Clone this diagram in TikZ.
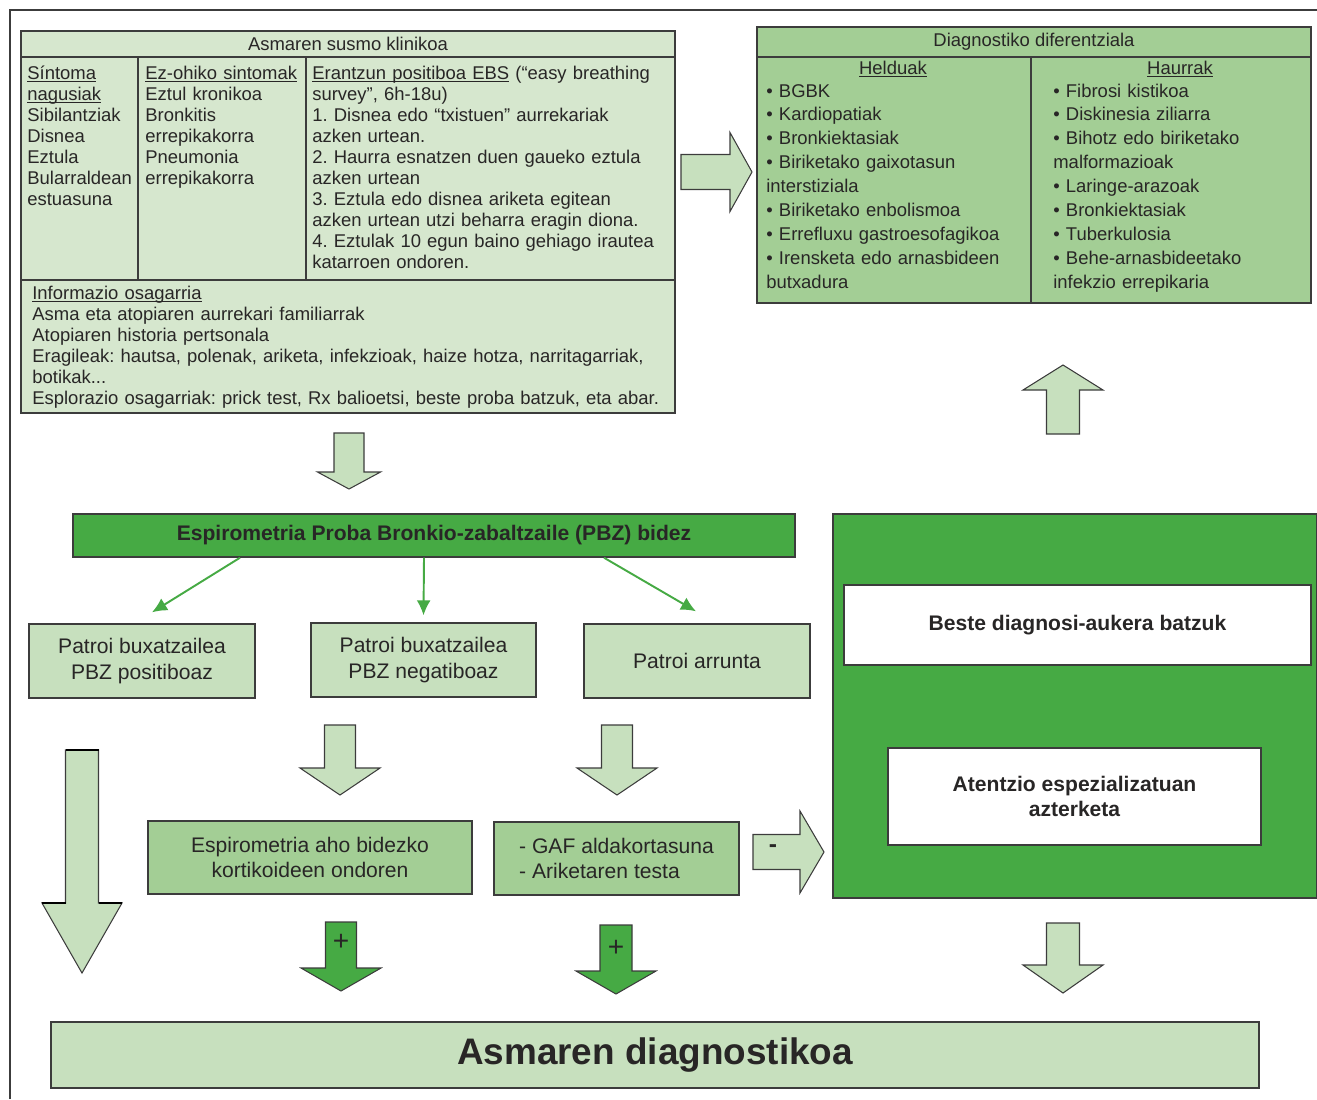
\documentclass[tikz,border=0pt]{standalone}
\usepackage{fontspec}
\setmainfont{Liberation Sans}
\usepackage{tikz}
\usetikzlibrary{arrows.meta}
\frenchspacing

\definecolor{clinfill}{RGB}{214,231,206}
\definecolor{midgreen}{RGB}{163,206,149}
\definecolor{lightgreen}{RGB}{199,224,190}
\definecolor{darkgreen}{RGB}{70,170,68}
\definecolor{inkgray}{RGB}{40,38,38}
\definecolor{edgegray}{RGB}{60,60,60}

% underline at a fixed depth
\newcommand{\undl}[1]{$\underline{\smash{\hbox{#1}}}$}

% block arrows: fill, centre, base, neck, tip, half shaft, half head
\newcommand{\blkdown}[7]{%
  \draw [blkarrow, fill=#1] ({#2-#6},#3) -- ({#2+#6},#3) -- ({#2+#6},#4) -- ({#2+#7},#4)
    -- (#2,#5) -- ({#2-#7},#4) -- ({#2-#6},#4) -- cycle;}
\newcommand{\blkright}[7]{%
  \draw [blkarrow, fill=#1] (#3,{#2-#6}) -- (#3,{#2+#6}) -- (#4,{#2+#6}) -- (#4,{#2+#7})
    -- (#5,#2) -- (#4,{#2-#7}) -- (#4,{#2-#6}) -- cycle;}

\begin{document}
\begin{tikzpicture}[
    x=0.2mm, y=-0.2mm,
    >={Latex[length=3mm,width=2.8mm]},
    font=\fontsize{10.5}{12}\selectfont,
    text=inkgray,
    box/.style={
        rectangle,
        draw=edgegray,
        line width=0.8pt,
        inner sep=0pt,
        align=center
    },
    cell/.style={
        anchor=base west,
        inner sep=0pt,
        align=left
    },
    rule/.style={draw=edgegray, line width=0.8pt},
    blkarrow/.style={draw=edgegray, line width=0.6pt},
    grnarrow/.style={->, draw=darkgreen, line width=1.1pt},
    bigtext/.style={font=\fontsize{12}{14.7}\selectfont},
    boldtext/.style={font=\bfseries\fontsize{12}{14.2}\selectfont}
  ]
  \useasboundingbox (0,0) rectangle (1317,1099);
  \draw [rule] (10,1099) -- (10,10) -- (1317,10);

  % clinical suspicion table
  \node [box, fill=clinfill, minimum width=130.8mm, minimum height=76.4mm] (clin) at (348,222) {};
  \draw [rule] (21,57) -- (675,57);
  \draw [rule] (21,280) -- (675,280);
  \draw [rule] (138,57) -- (138,280);
  \draw [rule] (306,57) -- (306,280);

  \node (clinhd) at (348,44) {Asmaren susmo klinikoa};
  \node [cell, text width=24mm] (sympt) at (27,79)
    {\undl{Síntoma}\\ \undl{nagusiak}\\ Sibilantziak\\ Disnea\\ Eztula\\ Bularraldean\\ estuasuna};
  \node [cell, text width=32mm] (rare) at (145,79)
    {\undl{Ez-ohiko sintomak}\\ Eztul kronikoa\\ Bronkitis\\ errepikakorra\\ Pneumonia\\ errepikakorra};
  \node [cell, text width=72mm] (ebs) at (312,79)
    {\undl{Erantzun positiboa EBS} (“easy breathing\\
     survey”, 6h-18u)\\
     1. Disnea edo “txistuen” aurrekariak\\
     azken urtean.\\
     2. Haurra esnatzen duen gaueko eztula\\
     azken urtean\\
     3. Eztula edo disnea ariketa egitean\\
     azken urtean utzi beharra eragin diona.\\
     4. Eztulak 10 egun baino gehiago irautea\\
     katarroen ondoren.};
  \node [cell, text width=128mm] (info) at (32,299)
    {\undl{Informazio osagarria}\\
     Asma eta atopiaren aurrekari familiarrak\\
     Atopiaren historia pertsonala\\
     Eragileak: hautsa, polenak, ariketa, infekzioak, haize hotza, narritagarriak,\\
     botikak...\\
     Esplorazio osagarriak: prick test, Rx balioetsi, beste proba batzuk, eta abar.};

  % differential diagnosis table
  \node [box, fill=midgreen, minimum width=110.8mm, minimum height=55.2mm] (ddif) at (1034,165) {};
  \draw [rule] (757,57) -- (1311,57);
  \draw [rule] (1031,57) -- (1031,303);
  \node (ddifhd) at (1034,42) {Diagnostiko diferentziala};
  \node [anchor=base] (adulthd) at (893,74) {\undl{Helduak}};
  \node [anchor=base] (childhd) at (1180,74) {\undl{Haurrak}};
  \node [cell, text width=52mm, font=\fontsize{10.5}{13.6}\selectfont] (adult) at (766,97)
    {• BGBK\\ • Kardiopatiak\\ • Bronkiektasiak\\ • Biriketako gaixotasun\\ interstiziala\\
     • Biriketako enbolismoa\\ • Errefluxu gastroesofagikoa\\ • Irensketa edo arnasbideen\\ butxadura};
  \node [cell, text width=50mm, font=\fontsize{10.5}{13.6}\selectfont] (child) at (1053,97)
    {• Fibrosi kistikoa\\ • Diskinesia ziliarra\\ • Bihotz edo biriketako\\ malformazioak\\
     • Laringe-arazoak\\ • Bronkiektasiak\\ • Tuberkulosia\\ • Behe-arnasbideetako\\ infekzio errepikaria};

  % spirometry and patterns
  \node [box, fill=darkgreen, minimum width=144.4mm, minimum height=8.6mm,
         font=\bfseries\fontsize{12}{14}\selectfont] (pbz) at (434,535.5)
    {Espirometria Proba Bronkio-zabaltzaile (PBZ) bidez};
  \node [box, fill=lightgreen, minimum width=45.2mm, minimum height=14.8mm, bigtext] (pa) at (142,661)
    {Patroi buxatzailea\\PBZ positiboaz};
  \node [box, fill=lightgreen, minimum width=45mm, minimum height=14.8mm, bigtext] (pb) at (423.5,660)
    {Patroi buxatzailea\\PBZ negatiboaz};
  \node [box, fill=lightgreen, minimum width=45.2mm, minimum height=14.8mm, bigtext] (pc) at (697,661)
    {Patroi arrunta};

  \node [box, fill=midgreen, minimum width=64.8mm, minimum height=14.6mm, bigtext] (esp) at (310,857.5)
    {Espirometria aho bidezko\\kortikoideen ondoren};
  \node [box, fill=midgreen, minimum width=49mm, minimum height=14.6mm, bigtext, align=left] (gaf) at (616.5,858.5)
    {- GAF aldakortasuna\\- Ariketaren testa};

  % specialised care
  \node [box, fill=darkgreen, minimum width=96.8mm, minimum height=76.8mm] (spec) at (1075,706) {};
  \node [box, fill=white, minimum width=93.4mm, minimum height=16mm, boldtext] (beste) at (1077.5,625)
    {Beste diagnosi-aukera batzuk};
  \node [box, fill=white, minimum width=74.6mm, minimum height=19.4mm, boldtext] (atz) at (1074.5,796.5)
    {Atentzio espezializatuan\\azterketa};

  \node [box, fill=lightgreen, minimum width=241.6mm, minimum height=13.2mm,
         font=\bfseries\fontsize{21}{24}\selectfont] (diag) at (655,1055) {Asmaren diagnostikoa};

  % arrows
  \draw [grnarrow] ([xshift=-38.8mm]pbz.south) -- ([xshift=2mm,yshift=2.2mm]pa.north);
  \draw [grnarrow] ([xshift=-2mm]pbz.south) -- ([yshift=1.4mm]pb.north);
  \draw [grnarrow] ([xshift=34mm]pbz.south) -- ([xshift=-0.2mm,yshift=2.4mm]pc.north);

  \blkright{lightgreen}{172}{681}{730}{752}{17.5}{39.5}
  \blkdown{lightgreen}{349}{433}{472}{489}{15}{31.5}
  \blkdown{lightgreen}{1063}{434}{390}{365}{16.5}{40}
  \blkdown{lightgreen}{340}{725}{768}{795}{15.5}{40}
  \blkdown{lightgreen}{617}{725}{768}{795}{15.5}{40}
  \blkdown{lightgreen}{82}{750}{903}{973}{16.5}{40}
  \draw [line width=1.6pt] (65.5,750) -- (98.5,750);
  \draw [line width=1.6pt] (42,903) -- (65.5,903) (98.5,903) -- (122,903);
  \blkdown{darkgreen}{341}{922}{968}{991}{15.5}{40}
  \blkdown{darkgreen}{616}{925}{971}{994}{16}{40}
  \blkright{lightgreen}{852}{753}{800}{824}{17.5}{41}
  \blkdown{lightgreen}{1063}{923}{965}{993}{16.5}{40}

  \node [font=\fontsize{16}{16}\selectfont] (plusa) at (341,942) {+};
  \node [font=\fontsize{16}{16}\selectfont] (plusb) at (616,948) {+};
  \node [font=\bfseries\fontsize{14}{14}\selectfont] (minus) at (773,849) {-};
\end{tikzpicture}
\end{document}
